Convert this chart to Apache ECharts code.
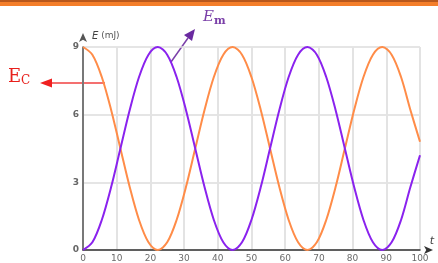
<!DOCTYPE html>
<html>
<head>
<meta charset="utf-8">
<script src="https://cdn.jsdelivr.net/npm/echarts@6/dist/echarts.min.js"></script>
<style>
	html, body { margin: 0; padding: 0; background: #fff; }
	#chart { width: 438px; height: 263px; }
</style>
</head>
<body>
<div id="chart"></div>
<script>
// t samples (extremes land on samples)
var tValues = [0, 2.78, 5.55, 8.33, 11.1, 13.88, 16.65, 19.43, 22.2, 24.98, 27.75, 30.53, 33.3, 36.08, 38.85, 41.63,
	44.4, 47.18, 49.95, 52.73, 55.5, 58.28, 61.05, 63.83, 66.6, 69.38, 72.15, 74.93, 77.7, 80.48, 83.25, 86.03,
	88.8, 91.58, 94.35, 97.13, 100];
// E_C (orange)
var ecValues = [9.00, 8.66, 7.68, 6.22, 4.50, 2.78, 1.32, 0.34, 0.00, 0.34, 1.32, 2.78, 4.50, 6.22, 7.68, 8.66,
	9.00, 8.66, 7.68, 6.22, 4.50, 2.78, 1.32, 0.34, 0.00, 0.34, 1.32, 2.78, 4.50, 6.22, 7.68, 8.66,
	9.00, 8.66, 7.68, 6.22, 4.80];
// E_m (purple)
var emValues = [0.00, 0.34, 1.32, 2.78, 4.50, 6.22, 7.68, 8.66, 9.00, 8.66, 7.68, 6.22, 4.50, 2.78, 1.32, 0.34,
	0.00, 0.34, 1.32, 2.78, 4.50, 6.22, 7.68, 8.66, 9.00, 8.66, 7.68, 6.22, 4.50, 2.78, 1.32, 0.34,
	0.00, 0.34, 1.32, 2.78, 4.20];
var yTicks = [0, 3, 6, 9];

function pairs(xs, ys) {
	var out = [];
	for (var i = 0; i < xs.length; i++) {
		out.push([xs[i], ys[i]]);
	}
	return out;
}

var chart = echarts.init(document.getElementById('chart'), null, { renderer: 'canvas' });

var option = {
	animation: false,
	grid: { left: 83, right: 18, top: 47, bottom: 11, containLabel: false },
	xAxis: {
		type: 'value',
		min: 0,
		max: 100,
		interval: 10,
		name: 't',
		nameLocation: 'end',
		nameGap: 12,
		nameTextStyle: { fontStyle: 'italic', fontFamily: 'DejaVu Sans', fontSize: 11, color: '#444', align: 'center', verticalAlign: 'bottom', padding: [0, 0, 3, 0] },
		axisLine: { lineStyle: { color: '#333', width: 1.5 }, symbol: ['none', 'arrow'], symbolSize: [6, 9], symbolOffset: [0, 13] },
		axisTick: { show: false },
		axisLabel: { color: '#6a6a6a', fontSize: 9, margin: 4, fontFamily: 'DejaVu Sans' },
		splitLine: { show: true, lineStyle: { color: '#e3e3e3', width: 2 } }
	},
	yAxis: {
		type: 'value',
		min: 0,
		max: 9,
		interval: 3,
		name: '{i|E} (mJ)',
		nameLocation: 'end',
		nameGap: 6,
		nameTextStyle: {
			align: 'left', fontSize: 9, color: '#555', fontFamily: 'DejaVu Sans', padding: [0, 0, 0, 9],
			rich: { i: { fontStyle: 'italic', fontSize: 10, color: '#444', fontFamily: 'DejaVu Sans' } }
		},
		axisLine: { show: true, lineStyle: { color: '#555', width: 1.5 }, symbol: ['none', 'arrow'], symbolSize: [6, 9], symbolOffset: [0, 14] },
		axisTick: { show: false },
		axisLabel: {
			color: '#666', fontSize: 9, fontWeight: 'bold', margin: 4, fontFamily: 'DejaVu Sans',
			formatter: function (v) { return yTicks.indexOf(v) >= 0 ? String(v) : ''; }
		},
		splitLine: { show: true, lineStyle: { color: '#dcdcdc', width: 1.5 } }
	},
	series: [{
		name: 'Ec',
		type: 'line',
		data: pairs(tValues, ecValues),
		smooth: 0.33,
		showSymbol: false,
		lineStyle: { color: '#ff8c48', width: 2 },
		z: 3
	}, {
		name: 'Em',
		type: 'line',
		data: pairs(tValues, emValues),
		smooth: 0.33,
		showSymbol: false,
		lineStyle: { color: '#8a22ee', width: 2 },
		z: 4
	}],
	graphic: [
		// top banner
		{ type: 'rect', shape: { x: 0, y: 0, width: 438, height: 6 }, style: { fill: '#f47e2a' }, silent: true },
		{ type: 'rect', shape: { x: 0, y: 0, width: 438, height: 2 }, style: { fill: '#b8581c' }, silent: true },
		// E_C label + arrow
		{ type: 'text', left: 8, top: 68, style: { text: 'E', font: '18px "DejaVu Serif"', fill: '#e8201c' } },
		{ type: 'text', left: 21, top: 75, style: { text: 'C', font: '12px "DejaVu Serif"', fill: '#e8201c' } },
		{ type: 'line', shape: { x1: 50, y1: 83, x2: 105, y2: 83 }, style: { stroke: '#f04040', lineWidth: 1.5 } },
		{ type: 'polygon', shape: { points: [[40, 83], [52, 78.5], [52, 87.5]] }, style: { fill: '#f02020' } },
		// E_m label + arrow
		{ type: 'text', left: 203, top: 10, style: { text: 'E', font: 'italic 15px "DejaVu Serif"', fill: '#7a3fa8' } },
		{ type: 'text', left: 214, top: 16, style: { text: 'm', font: 'bold 11px "DejaVu Serif"', fill: '#7a3fa8' } },
		{ type: 'line', shape: { x1: 171, y1: 62, x2: 188, y2: 38 }, style: { stroke: '#7a3fa8', lineWidth: 1.5 } },
		{ type: 'polygon', shape: { points: [[195, 29], [184, 35], [192, 41]] }, style: { fill: '#6a2aa0' } }
	]
};

chart.setOption(option);
</script>
</body>
</html>
